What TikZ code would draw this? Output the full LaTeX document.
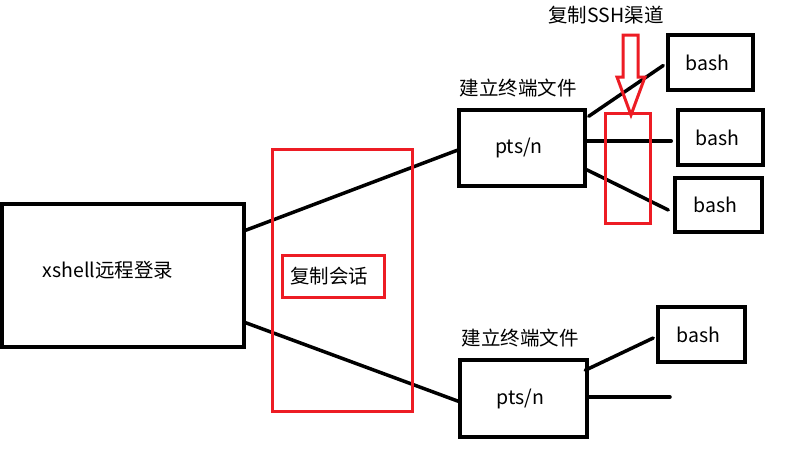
\documentclass[tikz,border=0pt]{standalone}
\usepackage{fontspec}
\setmainfont{Noto Sans CJK SC}
\usetikzlibrary{calc}
\definecolor{pred}{RGB}{237,28,36}
\begin{document}
\begin{tikzpicture}[x=1pt,y=-1pt,
  box/.style={draw=black,line width=3.5pt,inner sep=0,font=\fontsize{19.5}{22}\selectfont},
  link/.style={draw=black,line width=3.5pt,line cap=round},
  redbox/.style={draw=pred,line width=3pt,inner sep=0},
  lbl/.style={inner sep=0,font=\fontsize{19.5}{22}\selectfont}]
\useasboundingbox[fill=white] (0,0) rectangle (804,466);
% main boxes
\node[box,minimum width=242pt,minimum height=143pt] (xs) at (123,275.5) {};
\node[lbl] (xst) at (108,270) {xshell远程登录};
\node[box,minimum width=126pt,minimum height=76pt] (p1) at (522,148) {pts/n\hspace*{6pt}};
\node[box,minimum width=127pt,minimum height=77pt] (p2) at (523.5,398.5) {pts/n\hspace*{6pt}};
\node[lbl] (l1) at (518,88) {建立终端文件};
\node[lbl] (l2) at (520,338) {建立终端文件};
\node[box,minimum width=85pt,minimum height=55pt] (b1) at (710.5,62.5) {bash\hspace*{6pt}};
\node[box,minimum width=85pt,minimum height=55pt] (b2) at (720.5,137.5) {bash\hspace*{6pt}};
\node[box,minimum width=87pt,minimum height=54pt] (b3) at (718.5,205) {bash\hspace*{6pt}};
\node[box,minimum width=87pt,minimum height=55pt] (b4) at (701.5,334.5) {bash\hspace*{6pt}};
% connectors
\draw[link] ($(xs.north east)+(0,28)$) -- ($(p1.north west)+(0,42)$);
\draw[link] ($(xs.south east)+(0,-26)$) -- ($(p2.north west)+(0,43)$);
\draw[link] ($(p1.north east)+(2,8)$) -- ($(b1.west)+(-3,3)$);
\draw[link] ($(p1.east)+(0,-7)$) -- ($(b2.west)+(-5,3.5)$);
\draw[link] ($(p1.south east)+(0,-18)$) -- ($(b3.west)+(-5,5)$);
\draw[link] ($(p2.north west)+(127,12)$) -- ($(b4.west)+(-3,3.5)$);
\coordinate (free) at (670,397);
\draw[link] ($(p2.east)+(0,-1.5)$) -- (free);
% red annotations
\node[redbox,minimum width=140pt,minimum height=262pt] (big) at (342,280) {};
\node[redbox,minimum width=102pt,minimum height=42pt,font=\fontsize{19.5}{22}\selectfont] (cs) at (333,276) {复制会话\hspace*{8pt}};
\node[redbox,minimum width=45pt,minimum height=110pt] (ssh) at (627.5,168) {};
\node[lbl] (sshl) at (606,15) {复制SSH渠道};
\draw[pred,line width=3pt,line join=miter] (623,35) -- (638,35) -- (638,77) -- (645,77) -- (631,115) -- (617,77) -- (623,77) -- cycle;
\end{tikzpicture}
\end{document}
